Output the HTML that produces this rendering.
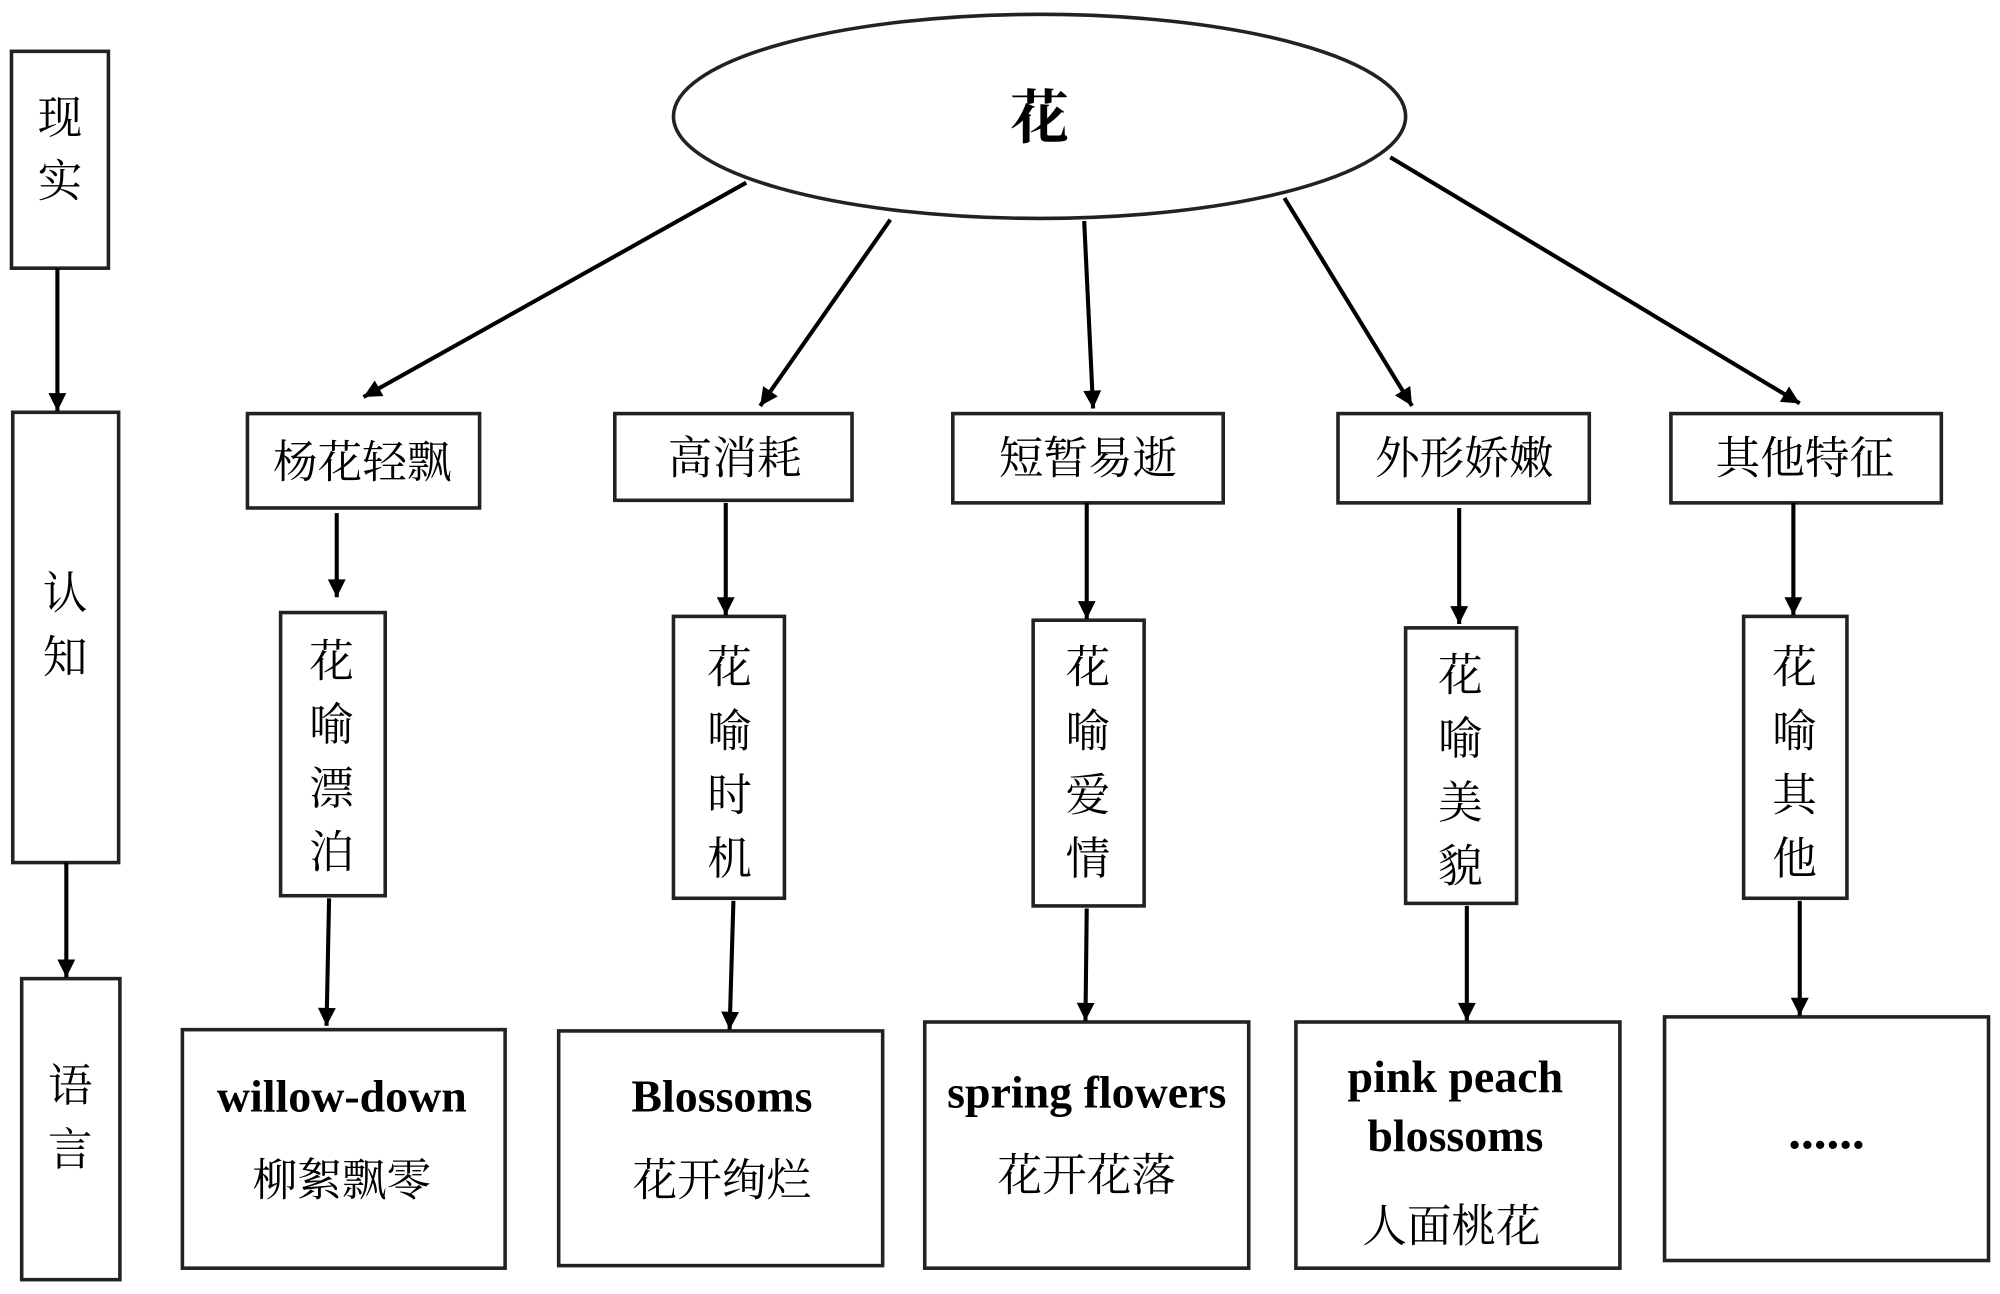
<!DOCTYPE html>
<html><head><meta charset="utf-8"><style>
html,body{margin:0;padding:0;background:#fff;}
svg{display:block;}
text{font-family:"Liberation Serif","Noto Serif CJK SC","Noto Sans CJK SC",serif;fill:#000;}
.cn{font-size:35px;}
.en{font-size:36px;font-weight:bold;}
</style></head><body>
<svg width="2000" height="1294" viewBox="0 0 1568 1014" xmlns="http://www.w3.org/2000/svg">
<defs>
<marker id="ah" viewBox="0 0 10 10" refX="10" refY="5" markerWidth="16" markerHeight="14" orient="auto" markerUnits="userSpaceOnUse">
<path d="M0,0 L10,5 L0,10 Z" fill="#000"/>
</marker>
</defs>
<g fill="#fff" stroke="#222" stroke-width="2.8">
<rect x="9" y="40" width="76" height="170"/>
<rect x="10" y="323" width="83" height="353"/>
<rect x="17" y="767" width="77" height="236"/>
<ellipse cx="815" cy="91" rx="287" ry="80"/>
<rect x="194" y="324" width="182" height="74"/>
<rect x="482" y="324" width="186" height="68"/>
<rect x="747" y="324" width="212" height="70"/>
<rect x="1049" y="324" width="197" height="70"/>
<rect x="1310" y="324" width="212" height="70"/>
<rect x="220" y="480" width="82" height="222"/>
<rect x="528" y="483" width="87" height="221"/>
<rect x="810" y="486" width="87" height="224"/>
<rect x="1102" y="492" width="87" height="216"/>
<rect x="1367" y="483" width="81" height="221"/>
<rect x="143" y="807" width="253" height="187"/>
<rect x="438" y="808" width="254" height="184"/>
<rect x="725" y="801" width="254" height="193"/>
<rect x="1016" y="801" width="254" height="193"/>
<rect x="1305" y="797" width="254" height="191"/>
</g>
<g stroke="#000" stroke-width="3.2" marker-end="url(#ah)">
<line x1="45" y1="210" x2="45" y2="322"/>
<line x1="52" y1="676" x2="52" y2="766"/>
<line x1="585" y1="143" x2="285" y2="311"/>
<line x1="698" y1="172" x2="596" y2="318"/>
<line x1="850" y1="173" x2="857" y2="320"/>
<line x1="1007" y1="155" x2="1107" y2="318"/>
<line x1="1090" y1="123" x2="1411" y2="316"/>
<line x1="264" y1="402" x2="264" y2="468"/>
<line x1="569" y1="394" x2="569" y2="482"/>
<line x1="852" y1="394" x2="852" y2="485"/>
<line x1="1144" y1="398" x2="1144" y2="489"/>
<line x1="1406" y1="394" x2="1406" y2="482"/>
<line x1="258" y1="704" x2="256" y2="804"/>
<line x1="575" y1="706" x2="572" y2="807"/>
<line x1="852" y1="712" x2="851" y2="800"/>
<line x1="1150" y1="710" x2="1150" y2="800"/>
<line x1="1411" y1="706" x2="1411" y2="796"/>
</g>
<g class="cn" text-anchor="middle">
<text x="47" y="104">现</text><text x="47" y="154">实</text>
<text x="51" y="477">认</text><text x="51" y="527">知</text>
<text x="55" y="863">语</text><text x="55" y="913">言</text>
<text x="815" y="108" style="font-size:46px;font-weight:bold">花</text>
<text x="284" y="374">杨花轻飘</text>
<text x="576" y="371">高消耗</text>
<text x="853" y="371">短暂易逝</text>
<text x="1148" y="371">外形娇嫩</text>
<text x="1415" y="371">其他特征</text>
<text x="260" y="530">花</text><text x="260" y="580">喻</text><text x="260" y="630">漂</text><text x="260" y="680">泊</text>
<text x="572" y="535">花</text><text x="572" y="585">喻</text><text x="572" y="635">时</text><text x="572" y="685">机</text>
<text x="853" y="535">花</text><text x="853" y="585">喻</text><text x="853" y="635">爱</text><text x="853" y="685">情</text>
<text x="1145" y="541">花</text><text x="1145" y="591">喻</text><text x="1145" y="641">美</text><text x="1145" y="691">貌</text>
<text x="1407" y="535">花</text><text x="1407" y="585">喻</text><text x="1407" y="635">其</text><text x="1407" y="685">他</text>
<text x="268" y="937">柳絮飘零</text>
<text x="566" y="937">花开绚烂</text>
<text x="852" y="933">花开花落</text>
<text x="1138" y="973">人面桃花</text>
</g>
<g class="en" text-anchor="middle">
<text x="268" y="871">willow-down</text>
<text x="566" y="871">Blossoms</text>
<text x="852" y="868">spring flowers</text>
<text x="1141" y="856">pink peach</text>
<text x="1141" y="902">blossoms</text>
<text x="1432" y="900" style="font-size:40px">......</text>
</g>
</svg>
</body></html>
